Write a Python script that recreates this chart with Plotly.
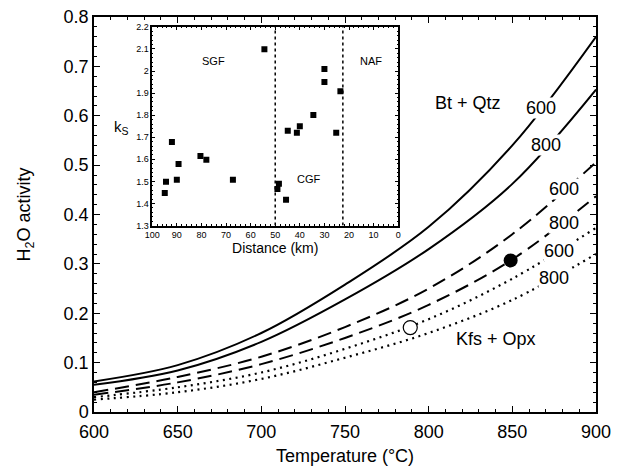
import plotly.graph_objects as go

# temperature grid (deg C) and H2O activity curves
temp = [600, 650, 700, 750, 800, 850, 900]
bt_qtz_600 = [0.062, 0.095, 0.160, 0.258, 0.375, 0.540, 0.760]
bt_qtz_800 = [0.055, 0.084, 0.142, 0.228, 0.330, 0.462, 0.653]
mid_600 = [0.040, 0.071, 0.112, 0.172, 0.250, 0.360, 0.506]
mid_800 = [0.035, 0.060, 0.097, 0.150, 0.217, 0.309, 0.437]
kfs_opx_600 = [0.030, 0.050, 0.080, 0.128, 0.188, 0.270, 0.373]
kfs_opx_800 = [0.025, 0.040, 0.067, 0.110, 0.160, 0.227, 0.320]

# sample points
filled_pt = ([849], [0.307])
open_pt = ([789], [0.171])

# inset: ks vs distance
dist_km = [94.9, 94.4, 92.0, 90.0, 89.3, 80.4, 78.0, 67.2, 54.4, 48.5, 49.1,
           45.6, 44.9, 41.2, 40.0, 34.5, 30.0, 30.0, 25.2, 23.5]
ks = [1.448, 1.498, 1.678, 1.508, 1.579, 1.615, 1.598, 1.508, 2.099, 1.489,
      1.466, 1.417, 1.729, 1.720, 1.750, 1.801, 2.009, 1.950, 1.720, 1.908]
boundaries_km = [50, 22.5]
ks_range = [1.3, 2.2]
ks_ticks = [1.3, 1.4, 1.5, 1.6, 1.7, 1.8, 1.9, 2.0, 2.1, 2.2]
ks_ticktext = ["1.3", "1.4", "1.5", "1.6", "1.7", "1.8", "1.9", "2", "2.1", "2.2"]

FONT = "Liberation Sans, Arial, sans-serif"

fig = go.Figure()

solid = dict(color="black", width=2, shape="spline")
dashed = dict(color="black", width=2, dash="14px,7px", shape="spline")
dotted = dict(color="black", width=2.2, dash="2px,4.5px", shape="spline")

for y, ln in [(bt_qtz_600, solid), (bt_qtz_800, solid),
              (mid_600, dashed), (mid_800, dashed),
              (kfs_opx_600, dotted), (kfs_opx_800, dotted)]:
    fig.add_trace(go.Scatter(x=temp, y=y, mode="lines", line=ln,
                             showlegend=False, hoverinfo="skip"))

fig.add_trace(go.Scatter(x=filled_pt[0], y=filled_pt[1], mode="markers",
                         marker=dict(size=14, color="black"), showlegend=False))
fig.add_trace(go.Scatter(x=open_pt[0], y=open_pt[1], mode="markers",
                         marker=dict(size=14, color="white",
                                     line=dict(color="black", width=1.2)),
                         showlegend=False))

# inset traces
for b in boundaries_km:
    fig.add_trace(go.Scatter(x=[b, b], y=ks_range, mode="lines",
                             line=dict(color="black", width=1.5, dash="dot"),
                             xaxis="x2", yaxis="y2", showlegend=False))
fig.add_trace(go.Scatter(x=dist_km, y=ks, mode="markers",
                         marker=dict(symbol="square", size=6, color="black"),
                         xaxis="x2", yaxis="y2", showlegend=False))

labels = [
    ("Bt + Qtz", 823.5, 0.625),
    ("600", 867, 0.615),
    ("800", 870, 0.540),
    ("600", 881, 0.452),
    ("800", 881, 0.383),
    ("600", 878, 0.326),
    ("800", 875, 0.272),
    ("Kfs + Opx", 840, 0.147),
]
for txt, x, y in labels:
    fig.add_annotation(x=x, y=y, text=txt, showarrow=False,
                       font=dict(size=18, color="black", family=FONT),
                       bgcolor="white" if txt.isdigit() else None, borderpad=0)

for txt, x, y in [("SGF", 75, 2.047), ("NAF", 11, 2.047), ("CGF", 36.3, 1.51)]:
    fig.add_annotation(x=x, y=y, text=txt, xref="x2", yref="y2", showarrow=False,
                       font=dict(size=11, color="black", family=FONT))

fig.add_annotation(x=0.035, y=0.75, xref="paper", yref="paper", showarrow=False,
                   text="k<sub>S</sub>", font=dict(size=15, color="black", family=FONT))

axis_common = dict(showline=True, linecolor="black", mirror="allticks",
                   ticks="inside", tickcolor="black", showgrid=False,
                   zeroline=False, automargin=False, ticklabeloverflow="allow")

fig.update_layout(
    width=619, height=470,
    margin=dict(l=86, r=31, t=9, b=66),
    plot_bgcolor="white", paper_bgcolor="white",
    font=dict(family=FONT, color="black"),
    xaxis=dict(range=[600, 900], dtick=50, linewidth=1.5, ticklen=6,
               tickfont=dict(size=18), ticklabelstandoff=3,
               minor=dict(dtick=10, ticks="inside", ticklen=3, tickcolor="black"),
               title=dict(text="Temperature (°C)", font=dict(size=18), standoff=8),
               **axis_common),
    yaxis=dict(range=[0, 0.8], dtick=0.1, linewidth=1.5, ticklen=6,
               tickfont=dict(size=18),
               minor=dict(dtick=0.02, ticks="inside", ticklen=3, tickcolor="black"),
               title=dict(text="H<sub>2</sub>O activity", font=dict(size=18), standoff=28),
               **axis_common),
    xaxis2=dict(domain=[0.116, 0.606], anchor="y2", range=[100, 0], dtick=10,
                linewidth=1.5, ticklen=3, tickfont=dict(size=9),
                minor=dict(dtick=2, ticks="inside", ticklen=1.5, tickcolor="black"),
                title=dict(text="Distance (km)", font=dict(size=14), standoff=4),
                **axis_common),
    yaxis2=dict(domain=[0.472, 0.975], anchor="x2", range=ks_range,
                tickvals=ks_ticks, ticktext=ks_ticktext,
                linewidth=1.5, ticklen=3, tickfont=dict(size=9),
                minor=dict(dtick=0.02, ticks="inside", ticklen=1.5, tickcolor="black"),
                **axis_common),
)

# white backing for the inset
fig.add_shape(type="rect", xref="x2 domain", yref="y2 domain", x0=0, x1=1, y0=0, y1=1,
              fillcolor="white", line=dict(width=0), layer="below")

fig.write_html("out.html")
